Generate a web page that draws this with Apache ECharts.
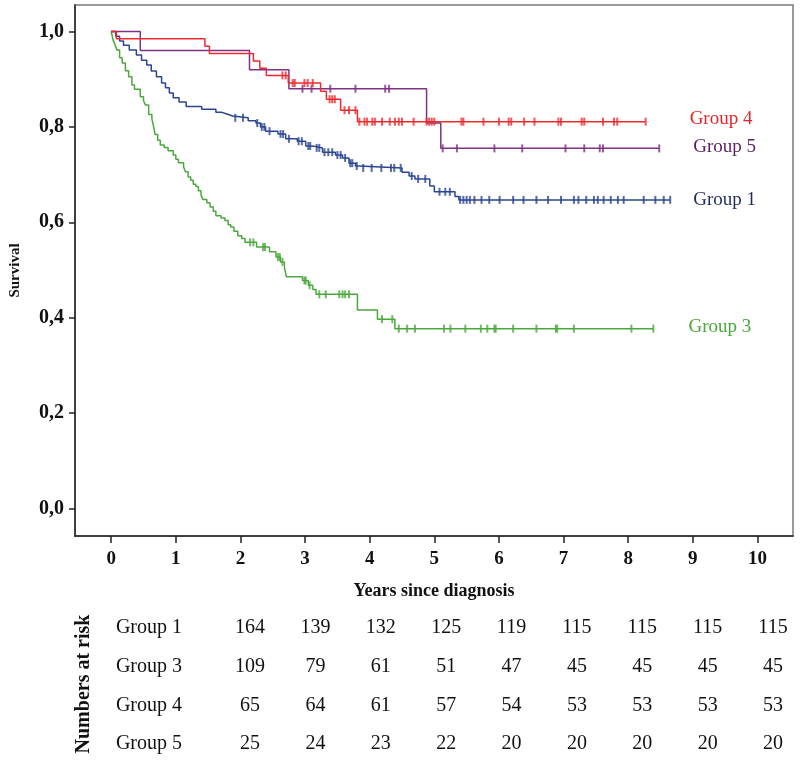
<!DOCTYPE html>
<html>
<head>
<meta charset="utf-8">
<script src="https://cdn.jsdelivr.net/npm/echarts@6/dist/echarts.min.js"></script>
<style>
  html, body { margin: 0; padding: 0; background: #fff; }
  #chart { width: 800px; height: 764px; }
</style>
</head>
<body>
<div id="chart"></div>
<script>
// axis ticks
var yearTicks = [0, 1, 2, 3, 4, 5, 6, 7, 8, 9, 10];
var survivalTicks = [0, 0.2, 0.4, 0.6, 0.8, 1.0];

// Kaplan-Meier steps [years, survival]
var group1Steps = [[0, 1], [0.07, 0.99], [0.13, 0.98], [0.19, 0.971], [0.28, 0.961], [0.39, 0.951],
    [0.47, 0.94], [0.55, 0.93], [0.62, 0.917], [0.70, 0.905], [0.78, 0.892], [0.84, 0.882],
    [0.90, 0.871], [0.96, 0.861], [1.05, 0.852], [1.16, 0.843], [1.40, 0.837], [1.62, 0.831],
    [1.70, 0.827], [1.79, 0.823], [1.88, 0.819], [2.12, 0.813], [2.24, 0.808], [2.31, 0.80],
    [2.39, 0.791], [2.58, 0.785], [2.70, 0.775], [2.88, 0.770], [3.01, 0.760], [3.12, 0.756],
    [3.27, 0.747], [3.47, 0.741], [3.58, 0.735], [3.68, 0.724], [3.78, 0.718], [3.84, 0.714],
    [4.50, 0.705], [4.61, 0.697], [4.70, 0.691], [4.93, 0.676], [5.00, 0.664], [5.32, 0.654],
    [5.38, 0.647]];
var group3Steps = [[0, 1], [0.03, 0.982], [0.06, 0.972], [0.09, 0.961], [0.13, 0.945], [0.17, 0.934],
    [0.22, 0.918], [0.27, 0.905], [0.32, 0.888], [0.36, 0.879], [0.45, 0.863], [0.50, 0.855],
    [0.53, 0.846], [0.58, 0.826], [0.63, 0.817], [0.66, 0.798], [0.68, 0.784], [0.72, 0.772],
    [0.76, 0.762], [0.82, 0.757], [0.88, 0.750], [0.96, 0.741], [1.00, 0.732], [1.04, 0.725],
    [1.12, 0.716], [1.15, 0.706], [1.19, 0.695], [1.23, 0.688], [1.27, 0.680], [1.31, 0.675],
    [1.35, 0.666], [1.39, 0.657], [1.42, 0.648], [1.48, 0.641], [1.53, 0.632], [1.58, 0.623],
    [1.62, 0.614], [1.70, 0.609], [1.76, 0.604], [1.81, 0.595], [1.85, 0.590], [1.90, 0.581],
    [1.96, 0.572], [2.02, 0.566], [2.07, 0.558], [2.25, 0.548], [2.45, 0.538], [2.55, 0.527],
    [2.62, 0.517], [2.68, 0.506], [2.71, 0.486], [2.96, 0.478], [3.05, 0.468], [3.12, 0.459],
    [3.17, 0.449], [3.81, 0.416], [4.12, 0.397], [4.39, 0.377]];
var group4Steps = [[0, 1], [0.08, 0.985], [1.45, 0.969], [1.52, 0.954], [2.20, 0.938], [2.30, 0.923],
    [2.40, 0.908], [2.74, 0.892], [3.24, 0.875], [3.33, 0.858], [3.55, 0.835], [3.81, 0.811]];
var group5Steps = [[0, 1], [0.45, 0.96], [2.14, 0.92], [2.75, 0.88], [4.88, 0.808], [5.10, 0.755]];

// censoring times (years)
var group1Censor = [1.92, 2.04, 2.26, 2.33, 2.37, 2.45, 2.62, 2.66, 2.75, 2.9, 2.95, 3.05, 3.08, 3.18,
    3.22, 3.3, 3.36, 3.42, 3.5, 3.55, 3.62, 3.7, 3.73, 3.8, 3.9, 4.03, 4.18, 4.33, 4.38, 4.48, 4.65,
    4.75, 4.86, 5.08, 5.17, 5.24, 5.4, 5.45, 5.5, 5.55, 5.62, 5.73, 5.85, 6.01, 6.22, 6.38, 6.58,
    6.76, 6.96, 7.16, 7.23, 7.35, 7.47, 7.53, 7.62, 7.73, 7.84, 7.93, 8.24, 8.42, 8.55, 8.65];
var group3Censor = [2.15, 2.2, 2.35, 2.38, 2.58, 2.61, 2.65, 2.99, 3.01, 3.07, 3.22, 3.32, 3.53, 3.58,
    3.62, 3.68, 4.19, 4.35, 4.45, 4.58, 4.7, 5.15, 5.25, 5.48, 5.72, 5.82, 5.93, 5.95, 6.22, 6.58,
    6.88, 6.9, 7.16, 8.05, 8.39];
var group4Censor = [2.65, 2.70, 2.81, 2.84, 2.99, 3.04, 3.12, 3.38, 3.42, 3.46, 3.61, 3.68, 3.78,
    3.84, 3.92, 3.96, 4.04, 4.08, 4.19, 4.31, 4.39, 4.45, 4.50, 4.68, 4.88, 4.92, 4.96, 5.0, 5.42,
    5.45, 5.76, 6.0, 6.15, 6.19, 6.39, 6.55, 6.92, 6.96, 7.28, 7.32, 7.61, 7.78, 7.83, 8.27];
var group5Censor = [2.96, 3.1, 3.39, 3.78, 4.24, 4.3, 5.13, 5.35, 5.93, 6.36, 7.03, 7.32, 7.56, 7.61, 8.48];

// numbers at risk table
var riskGroups = ['Group 1', 'Group 3', 'Group 4', 'Group 5'];
var riskCols = ['c0', 'c1', 'c2', 'c3', 'c4', 'c5', 'c6', 'c7', 'c8'];
var riskGroup1 = [164, 139, 132, 125, 119, 115, 115, 115, 115];
var riskGroup3 = [109, 79, 61, 51, 47, 45, 45, 45, 45];
var riskGroup4 = [65, 64, 61, 57, 54, 53, 53, 53, 53];
var riskGroup5 = [25, 24, 23, 22, 20, 20, 20, 20, 20];

var SERIF = '"Liberation Serif", "Times New Roman", serif';

function survAt(steps, t) {
    var s = steps[0][1];
    for (var i = 0; i < steps.length; i++) {
        if (steps[i][0] <= t) s = steps[i][1];
    }
    return s;
}

//line runs on to the last censored case
function lineData(steps, censor) {
    var d = steps.slice();
    var last = censor[censor.length - 1];
    d.push([last, survAt(steps, last)]);
    return d;
}

function censorData(steps, censor) {
    return censor.map(function (t) { return [t, survAt(steps, t)]; });
}

var groups = [
    {name: 'Group 1', steps: group1Steps, censor: group1Censor, color: '#2b4592', label: '#1d2b5e', dx: 15, dy: 0},
    {name: 'Group 3', steps: group3Steps, censor: group3Censor, color: '#4ba83c', label: '#48a838', dx: 27, dy: -2},
    {name: 'Group 5', steps: group5Steps, censor: group5Censor, color: '#7d3382', label: '#5b1f5c', dx: 26, dy: -1},
    {name: 'Group 4', steps: group4Steps, censor: group4Censor, color: '#ee2a2e', label: '#e3262b', dx: 36, dy: -3}
];

var series = [];
groups.forEach(function (g) {
    series.push({
        type: 'line',
        name: g.name,
        step: 'end',
        showSymbol: false,
        symbol: 'none',
        data: lineData(g.steps, g.censor),
        lineStyle: {color: g.color, width: 1.5},
        endLabel: {
            show: true,
            formatter: g.name,
            color: g.label,
            fontFamily: SERIF,
            fontSize: 19,
            offset: [g.dx, g.dy]
        },
        z: 3
    });
    series.push({
        type: 'scatter',
        name: g.name + ' censored',
        symbol: 'rect',
        symbolSize: [2, 8],
        data: censorData(g.steps, g.censor),
        itemStyle: {color: g.color},
        z: 4
    });
});

var riskRows = [riskGroup1, riskGroup3, riskGroup4, riskGroup5];
var riskData = [];
riskRows.forEach(function (row, r) {
    row.forEach(function (v, c) {
        riskData.push([c, r, v]);
    });
});

series.push({
    type: 'scatter',
    xAxisIndex: 1,
    yAxisIndex: 1,
    symbolSize: 1,
    itemStyle: {color: '#fff'},
    data: riskData,
    label: {
        show: true,
        position: 'inside',
        formatter: function (p) { return p.value[2]; },
        color: '#111',
        opacity: 1,
        fontFamily: SERIF,
        fontSize: 20
    }
});

var chart = echarts.init(document.getElementById('chart'));
chart.setOption({
    animation: false,
    backgroundColor: '#fff',
    grid: [
        {left: 71, right: 7, top: 5, bottom: 228, show: true, borderColor: '#7a7a7a', borderWidth: 1.5},
        {left: 250, right: 27, top: 628, bottom: 20}
    ],
    xAxis: [{
        type: 'value',
        min: -0.56,
        max: 10.55,
        name: 'Years since diagnosis',
        nameLocation: 'middle',
        nameGap: 46,
        nameTextStyle: {fontFamily: SERIF, fontWeight: 'bold', fontSize: 18, color: '#111'},
        axisLine: {onZero: false, lineStyle: {color: '#222', width: 1.5}},
        axisTick: {show: true, length: 7, customValues: yearTicks, lineStyle: {color: '#222', width: 1.5}},
        axisLabel: {customValues: yearTicks, margin: 14, fontFamily: SERIF, fontWeight: 'bold', fontSize: 19, color: '#111'},
        splitLine: {show: false}
    }, {
        type: 'category',
        gridIndex: 1,
        data: riskCols,
        boundaryGap: false,
        show: false
    }],
    yAxis: [{
        type: 'value',
        min: -0.0577,
        max: 1.0556,
        name: 'Survival',
        nameLocation: 'middle',
        nameGap: 52,
        nameTextStyle: {fontFamily: SERIF, fontWeight: 'bold', fontSize: 15, color: '#111'},
        axisLine: {onZero: false, lineStyle: {color: '#222', width: 1.5}},
        axisTick: {show: true, length: 6, customValues: survivalTicks, lineStyle: {color: '#222', width: 1.5}},
        axisLabel: {
            customValues: survivalTicks,
            margin: 11,
            fontFamily: SERIF,
            fontWeight: 'bold',
            fontSize: 20,
            color: '#111',
            formatter: function (v) { return v.toFixed(1).replace('.', ','); }
        },
        splitLine: {show: false}
    }, {
        type: 'category',
        gridIndex: 1,
        data: riskGroups,
        inverse: true,
        boundaryGap: false,
        axisLine: {show: false},
        axisTick: {show: false},
        axisLabel: {margin: 68, fontFamily: SERIF, fontSize: 20, color: '#111'}
    }],
    graphic: [{
        type: 'text',
        x: 84,
        y: 684,
        rotation: Math.PI / 2,
        style: {
            text: 'Numbers at risk',
            fontFamily: SERIF,
            fontWeight: 'bold',
            fontSize: 20,
            fill: '#111',
            textAlign: 'center',
            textVerticalAlign: 'middle'
        }
    }],
    series: series
});
</script>
</body>
</html>
